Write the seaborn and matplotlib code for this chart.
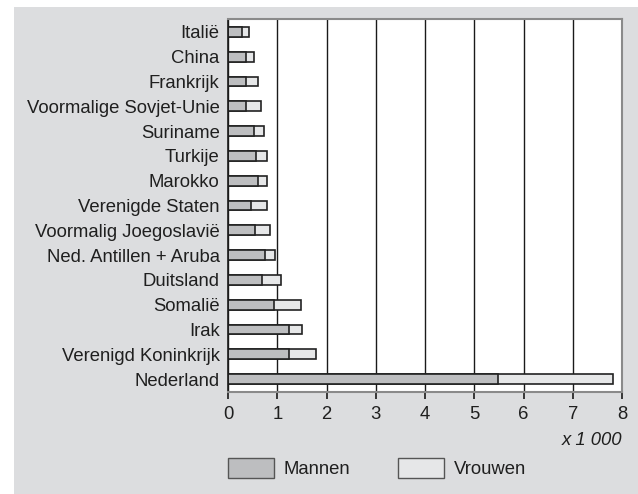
import matplotlib
matplotlib.use("Agg")
import matplotlib.pyplot as plt
import seaborn as sns
import pandas as pd
from matplotlib.patches import Patch, Rectangle

landen = ["Italië", "China", "Frankrijk", "Voormalige Sovjet-Unie", "Suriname",
          "Turkije", "Marokko", "Verenigde Staten", "Voormalig Joegoslavië",
          "Ned. Antillen + Aruba", "Duitsland", "Somalië", "Irak",
          "Verenigd Koninkrijk", "Nederland"]
mannen = [0.29, 0.36, 0.36, 0.36, 0.53, 0.56, 0.61, 0.46, 0.55, 0.76, 0.70, 0.93, 1.23, 1.23, 5.48]
vrouwen = [0.14, 0.17, 0.25, 0.32, 0.20, 0.24, 0.19, 0.34, 0.31, 0.19, 0.38, 0.55, 0.28, 0.55, 2.34]
xticks = [0, 1, 2, 3, 4, 5, 6, 7, 8]

df = pd.DataFrame({"land": landen, "mannen": mannen, "vrouwen": vrouwen})
df["totaal"] = df["mannen"] + df["vrouwen"]

sns.set_theme(style="white")
plt.rcParams["font.family"] = ["Liberation Sans", "DejaVu Sans"]

BG = "#dcdddf"
C_M = "#bdbec0"
C_V = "#e6e7e8"
EDGE = "#222222"
TXT = "#1f1f1f"
FS = 13.3

fig = plt.figure(figsize=(6.38, 4.94), dpi=100, facecolor="white")
fig.patches.append(Rectangle((14 / 638, 0), 1 - 14 / 638, 1 - 7 / 494,
                             transform=fig.transFigure, facecolor=BG,
                             edgecolor="none", zorder=-10))
ax = fig.add_axes([228 / 638, 1 - 392 / 494, 394 / 638, 373 / 494])
ax.set_facecolor("white")
ax.set_axisbelow(True)

sns.barplot(data=df, y="land", x="totaal", color=C_V, edgecolor=EDGE,
            linewidth=1.2, width=0.4, saturation=1, orient="h", ax=ax)
sns.barplot(data=df, y="land", x="mannen", color=C_M, edgecolor=EDGE,
            linewidth=1.2, width=0.4, saturation=1, orient="h", ax=ax)

ax.set_xlim(0, 8)
ax.set_ylim(14.52, -0.52)
ax.set_xticks(xticks)
ax.set_xticklabels([str(t) for t in xticks], fontsize=FS)
ax.xaxis.grid(True, color="#1a1a1a", linewidth=1.0)
ax.yaxis.grid(False)
ax.set_xlabel("")
ax.set_ylabel("")
ax.tick_params(axis="y", length=0, pad=6, labelsize=FS, colors=TXT)
ax.tick_params(axis="x", length=5, width=1.2, color="#1a1a1a", pad=5,
               labelsize=FS, labelcolor=TXT, direction="out", bottom=True)

for s in ["top", "right", "bottom"]:
    ax.spines[s].set_color("#8a8a8a")
    ax.spines[s].set_linewidth(1.5)
ax.spines["left"].set_color("#1a1a1a")
ax.spines["left"].set_linewidth(1.2)

fig.text(622 / 638, 1 - 440 / 494, "x 1 000", ha="right", va="center",
         fontsize=FS, style="italic", color=TXT)

handles = [Patch(facecolor=C_M, edgecolor="#555555", linewidth=1.0, label="Mannen"),
           Patch(facecolor=C_V, edgecolor="#555555", linewidth=1.0, label="Vrouwen")]
fig.legend(handles=handles, loc="upper left", bbox_to_anchor=(228 / 638, 1 - 458 / 494),
           ncol=2, frameon=False, fontsize=FS, handlelength=2.5, handleheight=1.25,
           handletextpad=0.5, columnspacing=2.6, borderpad=0, borderaxespad=0,
           labelcolor=TXT)

fig.savefig("out.png", dpi=100, facecolor="white")
